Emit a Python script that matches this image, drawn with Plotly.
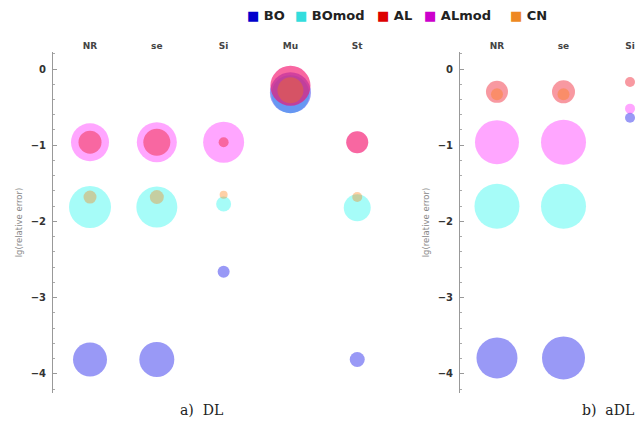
import plotly.graph_objects as go

# ---------------- data ----------------
columns = ["NR", "se", "Si", "Mu", "St"]
series_names = ["BO", "BOmod", "AL", "ALmod", "CN"]

# panel a) DL  (lg(relative error) and bubble magnitude per column)
dl_BO_y = [-3.81, -3.81, -2.66, -0.31, -3.81]
dl_BO_w = [34, 35, 12, 41, 15]
dl_BOmod_y = [-1.81, -1.81, -1.77, -0.33, -1.82]
dl_BOmod_w = [42, 41, 15, 38, 27]
dl_AL_y = [-0.96, -0.96, -0.96, -0.22, -0.96]
dl_AL_w = [23, 27, 10, 40, 22]
dl_ALmod_y = [-0.96, -0.96, -0.96, -0.22, -0.96]
dl_ALmod_w = [38, 40, 41, 40, 22]
dl_CN_y = [-1.68, -1.68, -1.65, -0.28, -1.68]
dl_CN_w = [13, 14, 8, 26, 10]

# panel b) aDL (only NR, se, Si visible)
adl_cols = ["NR", "se", "Si"]
adl_BO_y = [-3.79, -3.79, -0.64]
adl_BO_w = [41, 43, 10]
adl_BOmod_y = [-1.80, -1.80, None]
adl_BOmod_w = [45, 45, None]
adl_AL_y = [-0.30, -0.30, -0.17]
adl_AL_w = [22, 23, 10]
adl_ALmod_y = [-0.96, -0.96, -0.52]
adl_ALmod_w = [44, 45, 10]
adl_CN_y = [-0.33, -0.33, None]
adl_CN_w = [12, 12, None]

y_ticks = [0, -1, -2, -3, -4]

# ---------------- styles ----------------
fill = {
    "BO": "rgba(20,20,235,0.62)",
    "BOmod": "rgba(0,245,235,0.5)",
    "AL": "rgba(240,20,40,0.62)",
    "ALmod": "rgba(255,0,255,0.5)",
    "CN": "rgba(255,120,0,0.5)",
}
legend_col = {"BO": "#0000cc", "BOmod": "#33dddd", "AL": "#dd0000",
              "ALmod": "#cc00cc", "CN": "#ee8822"}
draw_order = ["BOmod", "BO", "ALmod", "AL", "CN"]

dl = {"BO": (dl_BO_y, dl_BO_w), "BOmod": (dl_BOmod_y, dl_BOmod_w),
      "AL": (dl_AL_y, dl_AL_w), "ALmod": (dl_ALmod_y, dl_ALmod_w),
      "CN": (dl_CN_y, dl_CN_w)}
adl = {"BO": (adl_BO_y, adl_BO_w), "BOmod": (adl_BOmod_y, adl_BOmod_w),
       "AL": (adl_AL_y, adl_AL_w), "ALmod": (adl_ALmod_y, adl_ALmod_w),
       "CN": (adl_CN_y, adl_CN_w)}

W, H = 638, 427
fig = go.Figure()


def add_panel(data, cols, xa, ya):
    for name in draw_order:
        ys, ws = data[name]
        xs = [c for c, v in zip(cols, ys) if v is not None]
        yv = [v for v in ys if v is not None]
        wv = [w for w, v in zip(ws, ys) if v is not None]
        fig.add_trace(go.Scatter(
            x=xs, y=yv, mode="markers", name=name, showlegend=False,
            xaxis=xa, yaxis=ya, hoverinfo="x+y+name",
            marker=dict(size=wv, sizemode="diameter", sizeref=1,
                        color=fill[name], line=dict(width=0)),
        ))


add_panel(dl, columns, "x", "y")
add_panel(adl, adl_cols, "x2", "y2")

ydom = [1 - 393 / H, 1 - 52 / H]
yrange = [-4.25, 0.223]

common_x = dict(type="category", categoryorder="array", categoryarray=columns,
                side="top", showline=False, showgrid=False, zeroline=False,
                ticks="", tickfont=dict(family="DejaVu Sans", size=9, color="#444",
                                        weight="bold"))
common_y = dict(range=yrange, domain=ydom, tickvals=y_ticks,
                showline=True, linecolor="#999", linewidth=1,
                ticks="inside", ticklen=4, tickcolor="#999",
                minor=dict(dtick=0.2, ticks="inside", ticklen=2, tickcolor="#aaa"),
                showgrid=False, zeroline=False, ticklabelstandoff=4,
                tickfont=dict(family="DejaVu Sans", size=10, color="#333", weight="bold"),
                title=dict(text="lg(relative error)", standoff=6,
                           font=dict(family="DejaVu Sans", size=8.5, color="#888")))

fig.update_layout(
    width=W, height=H, margin=dict(l=0, r=0, t=0, b=0),
    paper_bgcolor="white", plot_bgcolor="white", showlegend=False,
    xaxis=dict(domain=[53 / W, 400 / W], range=[-0.554, 4.64], anchor="y", **common_x),
    yaxis=dict(anchor="x", **common_y),
    xaxis2=dict(domain=[460 / W, 1], range=[-0.556, 2.12], anchor="y2", **common_x),
    yaxis2=dict(anchor="x2", **common_y),
)

# legend row (built from series names and colours)
legend_x = [245, 293, 375, 422, 508]
for name, px in zip(series_names, legend_x):
    fig.add_annotation(
        x=px / W, y=1 - 15 / H, xref="paper", yref="paper",
        xanchor="left", yanchor="middle", showarrow=False,
        text=f'<span style="color:{legend_col[name]}">■</span> {name}',
        font=dict(family="DejaVu Sans", size=13, color="#222", weight="bold"),
    )

# panel captions
for txt, px in [("a)  DL", 201), ("b)  aDL", 608)]:
    fig.add_annotation(
        x=px / W, y=1 - 410 / H, xref="paper", yref="paper",
        xanchor="center", yanchor="middle", showarrow=False, text=txt,
        font=dict(family="DejaVu Serif", size=14, color="#222"),
    )

fig.write_html("out.html")
